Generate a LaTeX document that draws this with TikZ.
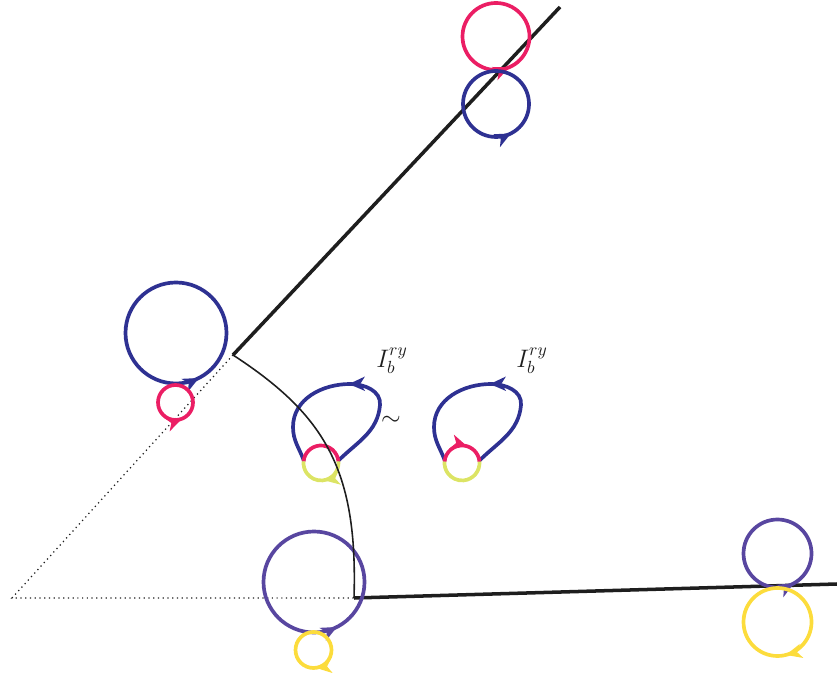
\documentclass[tikz,border=0pt]{standalone}
\usepackage{xcolor}
\usetikzlibrary{arrows.meta, decorations.markings}

\definecolor{ringblue}{RGB}{46,49,146}
\definecolor{ringred}{RGB}{235,30,100}
\definecolor{ringpurple}{RGB}{88,70,160}
\definecolor{ringyellow}{RGB}{252,220,60}
\definecolor{paleyellow}{RGB}{220,228,100}
\definecolor{ink}{RGB}{30,30,30}

\begin{document}
\begin{tikzpicture}[
  x=0.02cm, y=0.02cm,
  wall/.style={draw=ink, line width=2pt},
  guide/.style={draw=ink, dotted, line width=0.7pt},
  arc_line/.style={draw=ink, line width=0.9pt},
  ring/.style={line width=2.1pt},
  tip_at/.style={postaction={decorate, decoration={markings, mark=at position #1 with {\arrow{Stealth[length=9pt, width=8pt, inset=2.5pt]}}}}},
  tip_back/.style={postaction={decorate, decoration={markings, mark=at position #1 with {\arrowreversed{Stealth[length=9pt, width=8pt, inset=2.5pt]}}}}},
  tag_text/.style={font=\Large, text=ink}
]
\useasboundingbox (0,0) rectangle (837,672);

% Corner points of the two walls
\coordinate (apex) at (12,74);
\coordinate (low_corner) at (354,74);
\coordinate (low_end) at (837,88);
\coordinate (up_corner) at (233,317);
\coordinate (up_end) at (560,665);

% Ring centres
\coordinate (red_top) at (496,635.5);
\coordinate (blue_top) at (496,568);
\coordinate (blue_left) at (176,339);
\coordinate (red_left) at (175.5,269.5);
\coordinate (purple_low) at (314,90);
\coordinate (yellow_low) at (313.5,22);
\coordinate (purple_right) at (777.5,118.5);
\coordinate (yellow_right) at (777.5,50);

% Walls
\draw[guide] (up_corner) -- (apex) -- (low_corner);
\draw[wall] (up_corner) -- (up_end);
\draw[wall] (low_corner) -- (low_end);

% Rings at the walls
\draw[ring, ringred, tip_at=0.815] (red_top) circle (33.5);
\draw[ring, ringblue, tip_at=0.825] (blue_top) circle (33);
\draw[ring, ringblue, tip_at=0.825] (blue_left) circle (50.5);
\draw[ring, ringred, tip_at=0.81] (red_left) circle (17.5);
\draw[ring, ringpurple, tip_at=0.825] (purple_low) circle (50.5);
\draw[ring, ringyellow, tip_back=0.77] (yellow_low) circle (18);
\draw[ring, ringpurple, tip_at=0.83] (purple_right) circle (34);
\draw[ring, ringyellow, tip_back=0.79] (yellow_right) circle (34);

% Left loop
\begin{scope}[shift={(321,209)}]
  \coordinate (knot_a) at (0,0);
  \draw[ring, ringblue, tip_at=0.5] (17,2) to[out=45, in=-95] (59,58) to[out=85, in=0] (29,79)
    to[out=180, in=90] (-28,36) to[out=-90, in=110] (-17,2);
  \draw[ring, ringred] ([shift={(5:17.5)}]knot_a) arc[start angle=5, end angle=175, radius=17.5];
  \draw[ring, paleyellow, tip_at=0.45] ([shift={(5:17.5)}]knot_a) arc[start angle=5, end angle=-185, radius=17.5];
\end{scope}

% Right loop
\begin{scope}[shift={(462,209)}]
  \coordinate (knot_b) at (0,0);
  \draw[ring, ringblue, tip_at=0.5] (17,2) to[out=45, in=-95] (59,58) to[out=85, in=0] (29,79)
    to[out=180, in=90] (-28,36) to[out=-90, in=110] (-17,2);
  \draw[ring, paleyellow] ([shift={(5:17.5)}]knot_b) arc[start angle=5, end angle=-185, radius=17.5];
  \draw[ring, ringred, tip_at=0.6] ([shift={(175:17.5)}]knot_b) arc[start angle=175, end angle=5, radius=17.5];
\end{scope}

% Arc between the walls
\draw[arc_line] (up_corner) .. controls (325,257) and (358,202) .. (low_corner);

% Labels
\node[tag_text] (tag_left) at (392,311) {$I_b^{ry}$};
\node[tag_text] (tag_right) at (532,311) {$I_b^{ry}$};
\node[tag_text] (tilde) at (391,251) {$\sim$};

\end{tikzpicture}
\end{document}
